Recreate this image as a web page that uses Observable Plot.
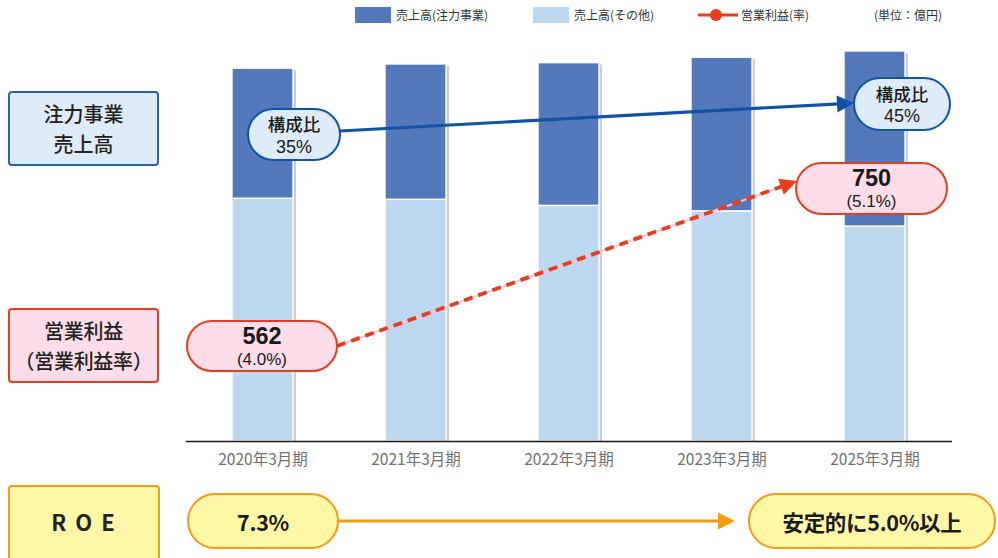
<!DOCTYPE html>
<html>
<head>
<meta charset="utf-8">
<script src="https://cdn.jsdelivr.net/npm/d3@7"></script>
<script src="https://cdn.jsdelivr.net/npm/@observablehq/plot@0.6"></script>
<style>
  html, body { margin: 0; padding: 0; background: #fff; }
  #wrap { position: relative; width: 998px; height: 558px; overflow: hidden; font-family: "Noto Sans CJK JP", "Noto Sans", sans-serif; }
  #wrap > svg { position: absolute; left: 0; top: 0; }
  .box { position: absolute; box-sizing: border-box; display: flex; flex-direction: column; align-items: center; justify-content: center; text-align: center; color: #222; }
  .pill { position: absolute; box-sizing: border-box; display: flex; flex-direction: column; align-items: center; justify-content: center; text-align: center; color: #1a1a1a; }
  .num { font-family: "Liberation Sans", Arial, sans-serif; }
  .legend { position: absolute; font-size: 12px; color: #333; line-height: 18px; white-space: nowrap; }
</style>
</head>
<body>
<div id="wrap"></div>
<script>
// ---- data ----
const periods = ["2020年3月期", "2021年3月期", "2022年3月期", "2023年3月期", "2025年3月期"];
const seriesNames = ["売上高(注力事業)", "売上高(その他)"];
const salesFocus = [4900, 5100, 5380, 5790, 6600];   // 億円 (estimated)
const salesOther = [9150, 9110, 8880, 8675, 8100];   // 億円 (estimated)
const focusShareLabels = ["35%", "45%"];              // 2020, 2025
const opProfit = [562, 750];                          // 2020, 2025
const opMarginLabels = ["(4.0%)", "(5.1%)"];
const roeLabels = ["7.3%", "安定的に5.0%以上"];
const rowLabels = [["注力事業", "売上高"], ["営業利益", "（営業利益率）"], ["R O E"]];

const DARK = "#5479ba", LIGHT = "#bdd7ef";
const BLUE = "#0f53a5", RED = "#e63d1f", ORANGE = "#f39c16";

const rows = periods.flatMap((p, i) => [
  {period: p, series: seriesNames[1], value: salesOther[i]},
  {period: p, series: seriesNames[0], value: salesFocus[i]}
]);
const totals = periods.map((p, i) => ({period: p, total: salesOther[i] + salesFocus[i]}));

const plot = Plot.plot({
  width: 998, height: 558,
  marginLeft: 186, marginRight: 46, marginTop: 43, marginBottom: 117,
  x: {domain: periods, paddingInner: 0.6, paddingOuter: 0.3, label: null, tickSize: 0, tickPadding: 12},
  y: {domain: [0, 15000], axis: null},
  color: {domain: seriesNames, range: [DARK, LIGHT]},
  style: {fontFamily: '"Noto Sans CJK JP", sans-serif', fontSize: "15.5px", color: "#707070", background: "transparent"},
  marks: [
    Plot.barY(totals, {x: "period", y: "total", fill: "#cfcfcf", dx: 3, insetTop: 2}),
    Plot.barY(rows, {x: "period", y: "value", fill: "series", stroke: "#fff", strokeWidth: 1.4}),
    Plot.ruleY([0], {stroke: "#1a1a1a", strokeWidth: 1.6})
  ]
});
const wrap = document.getElementById("wrap");
wrap.appendChild(plot);

// ---- arrows overlay ----
const ov = d3.create("svg").attr("width", 998).attr("height", 558).style("position", "absolute").style("left", 0).style("top", 0);
function arrow(x1, y1, x2, y2, color, width, dash, under) {
  const dx = x2 - x1, dy = y2 - y1, len = Math.hypot(dx, dy);
  const ux = dx / len, uy = dy / len, L = 17, W = 8.5;
  const bx = x2 - ux * L, by = y2 - uy * L;
  if (under) ov.append("line").attr("x1", x1).attr("y1", y1).attr("x2", bx).attr("y2", by).attr("stroke", under).attr("stroke-width", 2);
  ov.append("line").attr("x1", x1).attr("y1", y1).attr("x2", bx + ux * 2).attr("y2", by + uy * 2)
    .attr("stroke", color).attr("stroke-width", width).attr("stroke-dasharray", dash || null);
  ov.append("polygon").attr("points", [[x2, y2], [bx - uy * W, by + ux * W], [bx + uy * W, by - ux * W]].map(p => p.join(",")).join(" "))
    .attr("fill", color);
}
arrow(340, 131, 854, 103, BLUE, 3.2);
arrow(337, 346, 797, 181, RED, 3.8, "9,6", "#f6c3cf");
arrow(338, 521, 735, 521, ORANGE, 3.2);
wrap.appendChild(ov.node());

// ---- left row labels ----
function box(lines, l, t, w, h, fill, stroke, style) {
  const d = document.createElement("div");
  d.className = "box";
  d.innerHTML = lines.map(s => `<div>${s}</div>`).join("");
  Object.assign(d.style, {left: l + "px", top: t + "px", width: w + "px", height: h + "px", background: fill,
    border: `2px solid ${stroke}`, borderRadius: "4px", fontSize: "20px", lineHeight: "29.5px", fontWeight: 500}, style || {});
  wrap.appendChild(d);
}
box(rowLabels[0], 8, 91, 151, 75, "#deebf8", "#2a64ae");
box(rowLabels[1], 8, 308, 151, 75, "#fbdce8", RED, {letterSpacing: "-0.3px"});
box(rowLabels[2], 8, 485, 152, 90, "#fff6a6", ORANGE, {fontWeight: 700, fontSize: "22px", letterSpacing: "2px", paddingBottom: "17px"});

// ---- pills ----
function pill(html, l, t, w, h, fill, stroke) {
  const d = document.createElement("div");
  d.className = "pill";
  d.innerHTML = html;
  Object.assign(d.style, {left: l + "px", top: t + "px", width: w + "px", height: h + "px", background: fill,
    border: `2.5px solid ${stroke}`, borderRadius: (h / 2) + "px"});
  wrap.appendChild(d);
}
const shareHtml = s => `<div style="font-size:17.5px;line-height:25.5px;font-weight:500">構成比</div><div class="num" style="font-size:18px;line-height:21px">${s}</div>`;
pill(shareHtml(focusShareLabels[0]), 247, 108, 94, 53, "#deebf8", BLUE);
pill(shareHtml(focusShareLabels[1]), 853, 77, 98, 54, "#deebf8", BLUE);
const profitHtml = (v, m) => `<div class="num" style="font-size:23.5px;line-height:27px;font-weight:700">${v}</div><div class="num" style="font-size:17px;line-height:19.6px">${m}</div>`;
pill(profitHtml(opProfit[0], opMarginLabels[0]), 186, 320, 152, 52, "#fbdce8", RED);
pill(profitHtml(opProfit[1], opMarginLabels[1]), 795, 162, 153, 53, "#fbdce8", RED);
const roeHtml = s => `<div style="font-size:21.5px;font-weight:700;letter-spacing:-0.3px">${s}</div>`;
pill(roeHtml(roeLabels[0]), 187, 493, 152, 56, "#fff6a6", ORANGE);
pill(roeHtml(roeLabels[1]), 748, 493, 248, 56, "#fff6a6", ORANGE);

// ---- legend ----
function legendItem(html, l) {
  const d = document.createElement("div");
  d.className = "legend";
  d.innerHTML = html;
  d.style.left = l + "px"; d.style.top = "6px";
  wrap.appendChild(d);
}
const sw = c => `<span style="display:inline-block;width:36px;height:16px;background:${c};vertical-align:top;margin-top:1px;margin-right:5px"></span>`;
legendItem(sw(DARK) + seriesNames[0], 355);
legendItem(sw(LIGHT) + seriesNames[1], 533);
legendItem(`<svg width="42" height="18" style="vertical-align:top;margin-right:1px"><line x1="0" y1="9" x2="40" y2="9" stroke="${RED}" stroke-width="3"/><circle cx="18" cy="9" r="6" fill="${RED}"/></svg>営業利益(率)`, 698);
legendItem("(単位：億円)", 874);
</script>
</body>
</html>
